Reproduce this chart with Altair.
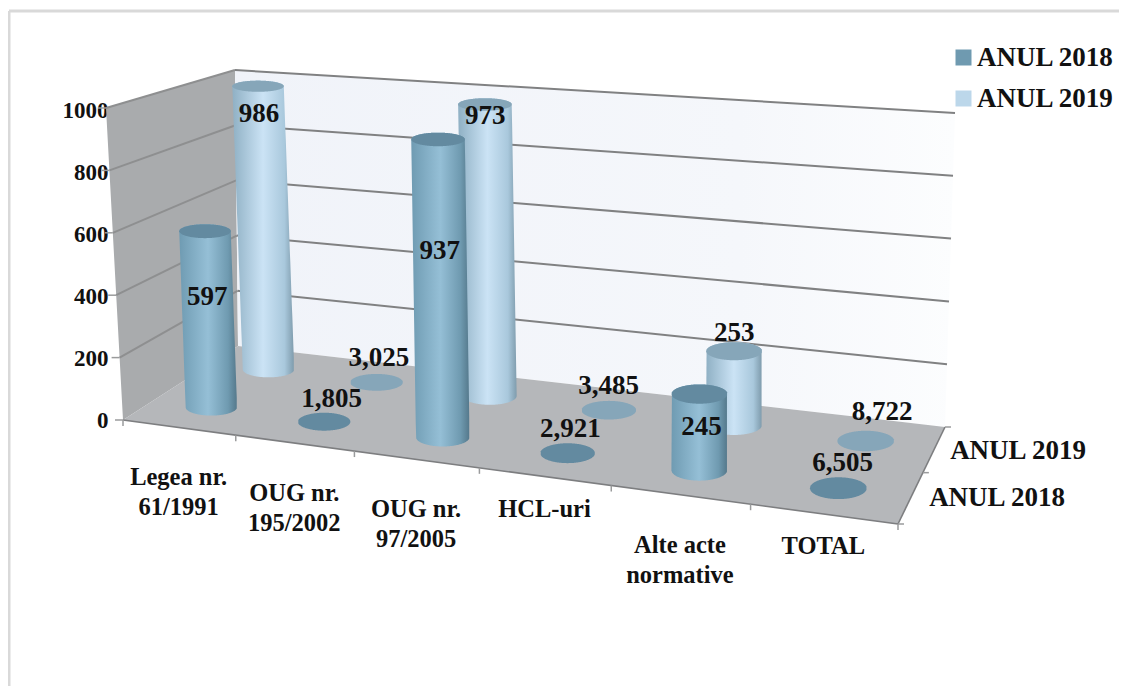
import altair as alt
import numpy as np
import pandas as pd

# ---------- chart values ----------
CATEGORIES = ["Legea nr.\n61/1991", "OUG nr.\n195/2002", "OUG nr.\n97/2005", "HCL-uri",
              "Alte acte\nnormative", "TOTAL"]
SERIES = ["ANUL 2018", "ANUL 2019"]
VALUES_2018 = [597, 1805, 937, 2921, 245, 6505]
VALUES_2019 = [986, 3025, 973, 3485, 253, 8722]
Y_TICKS = [0, 200, 400, 600, 800, 1000]

# ---------- 3-D box geometry (image pixels) ----------
FLOOR = [(123, 420), (898, 524), (945, 427), (238, 346)]   # front-left, front-right, back-right, back-left
CEIL = [(106, 108), (908, 169), (955, 113), (235, 70)]
FONT = "Liberation Serif"
W, H = 1111, 678
PX_PER_UNIT = 0.31


def homography(quad):
    src = [(0, 0), (1, 0), (1, 1), (0, 1)]
    A, b = [], []
    for (u, w), (x, y) in zip(src, quad):
        A.append([u, w, 1, 0, 0, 0, -u * x, -w * x]); b.append(x)
        A.append([0, 0, 0, u, w, 1, -u * y, -w * y]); b.append(y)
    h = np.linalg.solve(np.array(A, float), np.array(b, float))
    return np.append(h, 1).reshape(3, 3)


HF, HC = homography(FLOOR), homography(CEIL)


def apply(M, u, w):
    p = M @ np.array([u, w, 1.0])
    return p[:2] / p[2]


def project(u, w, v):
    return apply(HF, u, w) * (1 - v / 1000) + apply(HC, u, w) * (v / 1000)


def vy(py):
    return (420 - np.asarray(py, float)) / PX_PER_UNIT


x_scale = alt.Scale(domain=[8, 8 + W], range=[0, W], nice=False, zero=False)
y_scale = alt.Scale(domain=[float(vy(8)), float(vy(8 + H))], range=[0, H], nice=False, zero=False)
y_axis = alt.Axis(values=Y_TICKS, domain=False, ticks=False, grid=False, title=None,
                  offset=-(110 - 8), labelFont=FONT, labelFontWeight="bold", labelFontSize=23,
                  labelColor="#111111", labelPadding=2, format="d")
X = alt.X("x:Q", scale=x_scale, axis=None)
Y = alt.Y("y:Q", scale=y_scale, axis=y_axis)


def grad(stops):
    return alt.Gradient(gradient="linear", x1=0, x2=1, y1=0, y2=0,
                        stops=[alt.GradientStop(offset=o, color=c) for o, c in stops])


def area(df, fill):
    return alt.Chart(df).mark_area(color=fill, opacity=1).encode(x=X, y=Y, y2="y2:Q")


def poly_df(points):
    pts = list(points)
    xs = sorted({float(p[0]) for p in pts})
    rows = []
    for x in xs:
        ys = []
        for a, b in zip(pts, pts[1:] + pts[:1]):
            lo, hi = min(a[0], b[0]), max(a[0], b[0])
            if lo <= x <= hi:
                if a[0] == b[0]:
                    ys += [a[1], b[1]]
                else:
                    ys.append(a[1] + (x - a[0]) / (b[0] - a[0]) * (b[1] - a[1]))
        rows.append({"x": x, "y": float(vy(min(ys))), "y2": float(vy(max(ys)))})
    return pd.DataFrame(rows)


def cylinder_df(base, top, rx, ry_b, ry_t):
    x_grid = np.arange(min(base[0], top[0]) - rx, max(base[0], top[0]) + rx + 0.25, 0.5)
    upper = np.full_like(x_grid, np.inf)
    lower = np.full_like(x_grid, -np.inf)
    for t in np.linspace(0, 1, 80):
        c = base + (top - base) * t
        ry = ry_b + (ry_t - ry_b) * t
        d = (x_grid - c[0]) / rx
        inside = np.abs(d) <= 1
        off = ry * np.sqrt(np.clip(1 - d ** 2, 0, 1))
        upper = np.where(inside, np.minimum(upper, c[1] - off), upper)
        lower = np.where(inside, np.maximum(lower, c[1] + off), lower)
    keep = np.isfinite(upper)
    return pd.DataFrame({"x": x_grid[keep], "y": vy(upper[keep]), "y2": vy(lower[keep])})


def rules(segments, color, width):
    df = pd.DataFrame([{"x": a[0], "x2": b[0], "y": float(vy(a[1])), "y2": float(vy(b[1]))}
                       for a, b in segments])
    return alt.Chart(df).mark_rule(color=color, strokeWidth=width).encode(
        x=X, x2="x2:Q", y=Y, y2="y2:Q")


def texts(df, size):
    return alt.Chart(df).mark_text(font=FONT, fontWeight="bold", fontSize=size, color="#111111",
                                   baseline="middle", align="center", lineHeight=30).encode(
        x=X, y=Y, text="label:N")


layers = []

# legend carrier
legend_df = pd.DataFrame({"x": [300, 300], "y": [100.0, 100.0], "series": SERIES})
layers.append(alt.Chart(legend_df).mark_point(filled=True, shape="square", size=1, opacity=1).encode(
    x=X, y=Y,
    color=alt.Color("series:N",
                    scale=alt.Scale(domain=SERIES, range=["#6f9ab0", "#bcd7ea"]),
                    legend=alt.Legend(orient="none", legendX=950 - 8, legendY=44 - 8, title=None,
                                      symbolType="square", symbolSize=256, symbolStrokeWidth=0,
                                      labelFont=FONT, labelFontWeight="bold", labelFontSize=27,
                                      labelColor="#111111", labelLimit=200, rowPadding=13,
                                      labelOffset=0, symbolOpacity=1))))

# walls and floor
P = project
layers.append(area(poly_df([P(0, 0, 0), P(0, 1, 0), P(0, 1, 1000), P(0, 0, 1000)]), "#a9abad"))
layers.append(area(poly_df([P(0, 1, 0), P(1, 1, 0), P(1, 1, 1000), P(0, 1, 1000)]),
                   grad([(0, "#f0f3f9"), (0.7, "#f5f7fb"), (1, "#fcfdfe")])))

# gridlines
back = [(P(0, 1, v), P(1, 1, v)) for v in Y_TICKS[1:]]
side = [(P(0, 0, v), P(0, 1, v)) for v in Y_TICKS[1:]]
layers.append(rules(side, "#8e8f90", 2))
layers.append(rules(back, "#808182", 2))

layers.append(area(poly_df(FLOOR), "#b5b7ba"))
layers.append(rules([(P(0, 0, 0), P(1, 0, 0)), (P(1, 0, 0), P(1, 1, 0))], "#7d7e80", 1.6))

# small ticks
n = len(CATEGORIES)
x_ticks = [(P(i / n, 0, 0), P(i / n, 0, 0) + np.array([0, 6])) for i in range(n + 1)]
y_ticks = [(P(0, 0, v) + np.array([-8, 0]), P(0, 0, v)) for v in Y_TICKS]
d_ticks = [(P(1, w, 0), P(1, w, 0) + np.array([6, 0])) for w in (0, 0.5, 1)]
layers.append(rules(x_ticks + y_ticks + d_ticks, "#9a9b9c", 1.5))

# cylinders, back row first
ROWS = [
    (0.75, VALUES_2019, 5, [895, 92, 937, 85, 312, 100], [0, 3, 0, 0, 0, 16],
     [(0, "#8fb0c4"), (0.5, "#cbe3f5"), (0.85, "#a9c8dc"), (1, "#7f9cad")], "#86a6b9"),
    (0.25, VALUES_2018, 3, [380, 80, 605, 80, 140, 80], [0, 8, 0, 3, 2, 4],
     [(0, "#6f9bb2"), (0.5, "#95bfd6"), (0.85, "#6f9ab0"), (1, "#55798c")], "#638aa0"),
]
labels = []


def bar_axis(u, w, h, shift):
    """Base-to-top axis point of a cylinder at height h."""
    base = P(u, w, 0) + np.array([shift * (1 - u), 0])
    eff = h * (1 - 0.09 * (1 - h / 1000))
    top = P(u, w, eff)
    lean = 12 * (1 - 1.4 * u) * h / 1000
    return base, np.array([base[0] - lean, top[1]])


for w, values, shift, lifts, label_dx, stops, top_col in ROWS:
    for i, val in enumerate(values):
        u = (i + 0.5) / n
        h = val if val <= 1000 else 0
        base, top = bar_axis(u, w, h, shift)
        rx = 25.5 + 3.2 * u
        ry_b = (8.5 + 3 * u) * (1 - 0.12 * w)
        ry_t = ry_b * (1 - 0.3 * h / 1000)
        if h > 0:
            layers.append(area(cylinder_df(base, top, rx, ry_b, ry_t), grad(stops)))
        layers.append(area(cylinder_df(top, top, rx, ry_t, ry_t), top_col))
        _, lp = bar_axis(u, w, lifts[i], shift)
        labels.append({"x": float(lp[0] + label_dx[i]), "y": float(vy(lp[1])), "label": f"{val:,}"})

layers.append(texts(pd.DataFrame(labels), 27))

# category labels below the front edge
cat_rows = []
for i, c in enumerate(CATEGORIES):
    p = P((i + 0.5) / n, 0, 0)
    off = 51 if "\n" in c else 33
    cat_rows.append({"x": float(p[0]), "y": float(vy(p[1] + off)), "label": c.split("\n")})
layers.append(alt.Chart(alt.Data(values=cat_rows)).mark_text(
    font=FONT, fontWeight="bold", fontSize=24.5, color="#111111", baseline="middle", align="center",
    lineHeight=30).encode(x=X, y=Y, text=alt.Text("label:N")))

# depth labels
depth_df = pd.DataFrame({"x": [997.0, 1018.0], "y": [float(vy(498)), float(vy(451))], "label": SERIES})
layers.append(texts(depth_df, 27))

# picture frame
frame = [((9, 11), (1119, 11)), ((9, 11), (9, 686))]
layers.append(rules(frame, "#d9d9d9", 3))

chart = alt.layer(*layers).resolve_scale(color="independent").properties(
    width=W, height=H, padding=0, autosize=alt.AutoSizeParams(type="none"),
    background="white").configure_view(stroke=None)

chart.save("out.html", embed_options={"renderer": "svg", "actions": False})
